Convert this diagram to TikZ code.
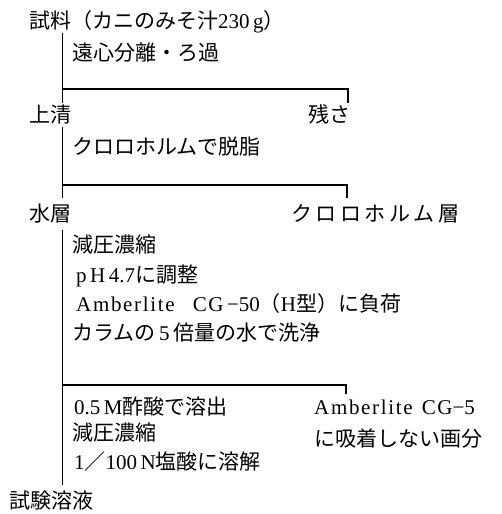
\documentclass[tikz,border=0pt]{standalone}
\usepackage{fontspec}
\setmainfont{Liberation Serif}
\newfontfamily\jp{Noto Sans CJK JP}
\newfontfamily\ls[LetterSpace=8]{Liberation Serif}
\begin{document}
\begin{tikzpicture}[x=1pt,y=-1pt,
  txt/.style={anchor=west, inner sep=0pt, text height=17.5pt, text depth=1.5pt,
              font=\fontsize{21}{21}\selectfont},
  txte/.style={txt, anchor=east},
  vline/.style={line width=1.6pt},
  hline/.style={line width=1.3pt}]
\useasboundingbox (0,0) rectangle (501,514);
\fill[white] (0,0) rectangle (501,514);
% nodes
\node[txt] (title) at (29,20) {{\jp 試料（カニのみそ汁}230\,g{\jp ）}};
\node[txt] (ensin) at (72,52) {{\jp 遠心分離・ろ過}};
\node[txt] (jo) at (29,114) {{\jp 上清}};
\node[txte] (zansa) at (351,114) {{\jp 残さ}};
\node[txt] (dasshi) at (72,146) {{\jp クロロホルムで脱脂}};
\node[txt] (suiso) at (29,213) {{\jp 水層}};
\node[txt] (chl) at (291,213) {{\jp ク\,ロ\,ロ\,ホ\,ル\,ム\,層}};
\node[txt] (gen1) at (72,244) {{\jp 減圧濃縮}};
\node[txt] (ph) at (76,274) {{\ls p\,H}\,4.7{\jp に調整}};
\node[txt] (amb) at (76,303) {{\ls Amberlite}\hspace{18pt}{\ls CG}\,−50{\jp （}H{\jp 型）に負荷}};
\node[txt] (wash) at (72,332) {{\jp カラムの}\,5\,{\jp 倍量の水で洗浄}};
\node[txt] (elu) at (74,406) {0.5\,M{\jp 酢酸で溶出}};
\node[txt] (gen2) at (72,432) {{\jp 減圧濃縮}};
\node[txt] (hcl) at (74,461) {1{\jp ／}100\,N{\jp 塩酸に溶解}};
\node[txt] (test) at (9,500) {{\jp 試験溶液}};
\node[txt] (amb2) at (314,406) {{\ls Amberlite}\hspace{9pt}{\ls CG}−5};
\node[txt] (notads) at (314,438) {{\jp に吸着しない画分}};
% main vertical line
\coordinate (vx) at (62.5,0);
\draw[vline, shorten <=3pt, shorten >=1pt] (title.south -| vx) -- (jo.north -| vx);
\draw[vline, shorten <=3pt, shorten >=5pt] (jo.south -| vx) -- (suiso.north -| vx);
\draw[vline, shorten <=7pt, shorten >=5pt] (suiso.south -| vx) -- (test.north -| vx);
% branches
\coordinate (b1) at (62.5,89);
\coordinate (e1) at (348,103);
\draw[hline] (b1) -| (e1);
\coordinate (b2) at (62.5,185);
\coordinate (e2) at (347,198);
\draw[hline] (b2) -| (e2);
\coordinate (b3) at (62.5,385);
\coordinate (e3) at (346,394);
\draw[hline] (b3) -| (e3);
\end{tikzpicture}
\end{document}
